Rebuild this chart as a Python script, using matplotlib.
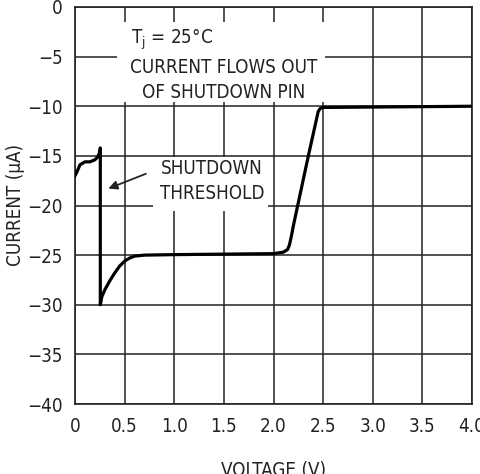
import matplotlib
matplotlib.use('Agg')
import matplotlib.pyplot as plt
from matplotlib.patches import Rectangle

plt.rcParams['font.family'] = ['DejaVu Sans']
plt.rcParams['font.stretch'] = 'condensed'

# shutdown pin current vs voltage
voltage = [0.0, 0.02, 0.05, 0.1, 0.15, 0.2, 0.23, 0.25, 0.255,
           0.255, 0.27, 0.3, 0.35, 0.4, 0.45, 0.5, 0.55, 0.6, 0.7, 1.0,
           1.5, 2.0, 2.1, 2.14, 2.16, 2.18, 2.2, 2.35, 2.45,
           2.47, 2.5, 3.0, 3.5, 4.0]
current = [-17.0, -16.6, -15.9, -15.6, -15.6, -15.4, -15.1, -14.6, -14.2,
           -30.0, -29.2, -28.5, -27.6, -26.8, -26.1, -25.6, -25.3, -25.1, -25.0, -24.95,
           -24.9, -24.85, -24.7, -24.45, -24.0, -23.1, -22.05, -15.05, -10.55,
           -10.22, -10.12, -10.08, -10.04, -10.0]

x_ticks = [0, 0.5, 1.0, 1.5, 2.0, 2.5, 3.0, 3.5, 4.0]
x_labels = ['0', '0.5', '1.0', '1.5', '2.0', '2.5', '3.0', '3.5', '4.0']
y_ticks = [0, -5, -10, -15, -20, -25, -30, -35, -40]
y_labels = ['0', '\u22125', '\u221210', '\u221215', '\u221220', '\u221225',
            '\u221230', '\u221235', '\u221240']

fs = 13.5
ink = '#222222'

fig = plt.figure(figsize=(4.8, 4.74), dpi=100)
ax = fig.add_axes([75 / 480, 1 - 404 / 474, 397 / 480, 397 / 474])

ax.set_xlim(0, 4)
ax.set_ylim(-40, 0)
ax.set_xticks(x_ticks)
ax.set_xticklabels(x_labels)
ax.set_yticks(y_ticks)
ax.set_yticklabels(y_labels)
ax.tick_params(length=0, labelsize=fs, colors=ink, pad=9)
ax.grid(True, color=ink, linewidth=1.1, zorder=1)
ax.set_axisbelow(True)
for s in ax.spines.values():
    s.set_color(ink)
    s.set_linewidth(1.2)

# white patches behind the notes hide the grid
ax.add_patch(Rectangle((0.42, -9.6), 2.1, 8.1, facecolor='white',
                       edgecolor='none', zorder=2))
ax.add_patch(Rectangle((0.79, -20.6), 1.15, 5.45, facecolor='white',
                       edgecolor='none', zorder=2))

ax.plot(voltage, current, color='black', linewidth=2.3, zorder=4,
        solid_joinstyle='round')

ax.text(0.56, -3.3, 'T$_\\mathregular{j}$ = 25\u00b0C', fontsize=fs,
        color=ink, ha='left', va='center', zorder=5)
ax.text(1.5, -7.4, 'CURRENT FLOWS OUT\nOF SHUTDOWN PIN', fontsize=fs,
        color=ink, ha='center', va='center', linespacing=1.4, zorder=5)
ax.text(1.38, -17.55, 'SHUTDOWN\nTHRESHOLD', fontsize=fs, color=ink,
        ha='center', va='center', linespacing=1.4, zorder=5)
ax.annotate('', xy=(0.31, -18.4), xytext=(0.74, -16.7),
            arrowprops=dict(arrowstyle='-|>', color=ink, lw=1.3,
                            mutation_scale=13), zorder=5)

ax.set_xlabel('VOLTAGE (V)', fontsize=fs, color=ink, labelpad=18)
ax.set_ylabel('CURRENT (\u00b5A)', fontsize=fs, color=ink, labelpad=1.5)

fig.savefig('out.png', dpi=100)
